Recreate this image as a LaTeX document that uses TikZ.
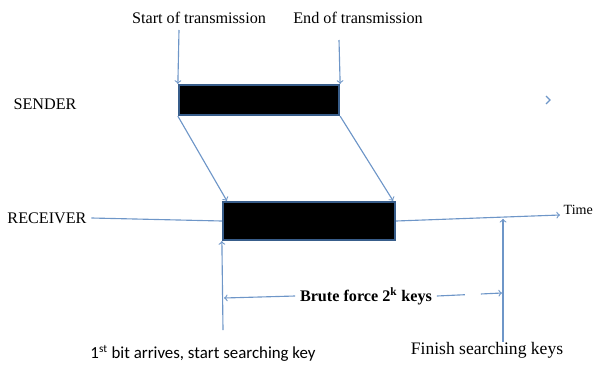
\documentclass[tikz,border=0pt]{standalone}
\usepackage{fontspec}
\setmainfont{Liberation Serif}
\newfontfamily\calibrifont{Carlito}
\usepackage{xcolor}
\usetikzlibrary{positioning}

\definecolor{lineblue}{RGB}{110,150,200}
\definecolor{boxblue}{RGB}{56,93,138}

\tikzset{
    packet/.style={draw=boxblue, fill=black, line width=1.6pt, inner sep=0pt},
    link/.style={draw=lineblue, line width=0.8pt, ->},
    plain/.style={draw=lineblue, line width=0.8pt}
}

\begin{document}
\begin{tikzpicture}[font=\fontsize{11.5}{13}\selectfont]
    \useasboundingbox (0,0) rectangle (14.85,9.2);

    \node[packet, minimum width=4cm, minimum height=0.75cm] (spkt) at (6.475,6.7) {};
    \node[packet, minimum width=4.3cm, minimum height=0.95cm] (rpkt) at (7.725,3.675) {};

    \node (start) at (4.975,8.75) {Start of transmission};
    \node (end) at (8.95,8.75) {End of transmission};
    \node (sender) at (1.125,6.6) {SENDER};
    \node (receiver) at (1.175,3.75) {RECEIVER};
    \node[anchor=west, inner sep=1pt, font=\fontsize{10}{12}\selectfont] (time) at (14.05,3.95) {Time};
    \node[font=\fontsize{11.5}{13}\selectfont\bfseries] (brute) at (9.15,1.8) {Brute force 2\textsuperscript{k} keys};
    \node[font=\calibrifont\fontsize{12}{14}\selectfont] (first) at (5.075,0.375) {1\textsuperscript{st} bit arrives, start searching key};
    \node[font=\fontsize{12.5}{14}\selectfont] (finish) at (12.175,0.45) {Finish searching keys};

    % start / end of sending
    \coordinate (st) at (4.475,8.45);
    \coordinate (et) at (8.475,8.2);
    \draw[link] (st) -- (spkt.north west);
    \draw[link] (et) -- (spkt.north east);

    % propagation
    \draw[link] (spkt.south west) -- ([xshift=0.125cm]rpkt.north west);
    \draw[link] (spkt.south east) -- ([xshift=-0.075cm]rpkt.north east);

    % time axis
    \coordinate (tend) at (14.0,3.825);
    \draw[plain] (receiver.east) -- (rpkt.west);
    \draw[link] (rpkt.east) -- (tend);

    % search interval
    \coordinate (v1) at (5.575,0.95);
    \coordinate (v2) at (12.575,0.65);
    \coordinate (v2top) at (12.575,3.73);
    \draw[link] (v1) -- (rpkt.south west);
    \draw[link] (v2) -- (v2top);

    \coordinate (bl) at (5.6,1.75);
    \coordinate (br) at (12.55,1.875);
    \draw[link] (brute.west) -- (bl);
    \draw[link, dash pattern=on 0.7cm off 0.4cm] (brute.east) -- (br);

    \draw[plain] (13.65,6.8) -- (13.75,6.7) -- (13.65,6.6);
\end{tikzpicture}
\end{document}
